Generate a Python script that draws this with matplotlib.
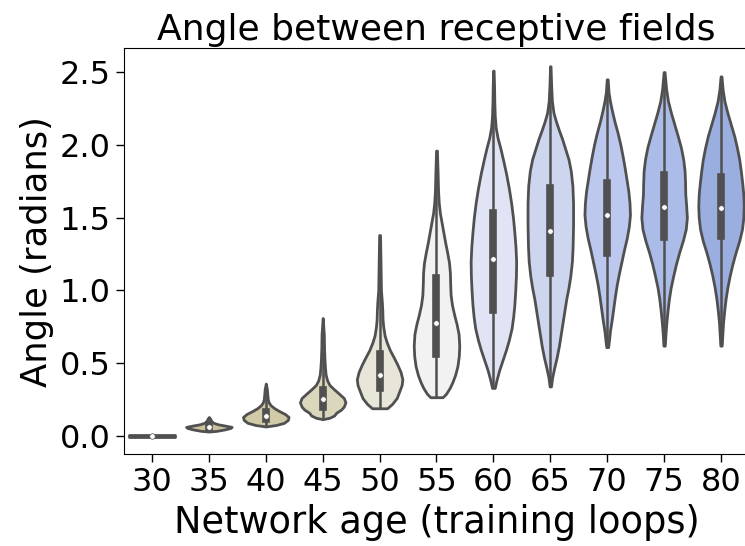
import matplotlib
matplotlib.use("Agg")
import matplotlib.pyplot as plt
import numpy as np

# network ages on the x axis
ages = [30, 35, 40, 45, 50, 55, 60, 65, 70, 75, 80]

# violin outlines: y level (radians) and relative half-width
prof_y = [
    [-0.004, 0.0, 0.004],
    [0.03, 0.035, 0.045, 0.055, 0.062, 0.07, 0.08, 0.09, 0.1, 0.11, 0.12, 0.13],
    [0.065, 0.075, 0.09, 0.11, 0.13, 0.15, 0.17, 0.19, 0.21, 0.23, 0.25, 0.28, 0.32, 0.36],
    [0.115, 0.125, 0.14, 0.16, 0.18, 0.2, 0.23, 0.26, 0.29, 0.32, 0.35, 0.38, 0.42, 0.47,
     0.52, 0.6, 0.7, 0.81],
    [0.19, 0.22, 0.26, 0.3, 0.35, 0.39, 0.44, 0.49, 0.54, 0.59, 0.64, 0.69, 0.75, 0.8,
     0.86, 0.92, 1.0, 1.1, 1.2, 1.38],
    [0.266, 0.29, 0.33, 0.37, 0.42, 0.48, 0.55, 0.62, 0.7, 0.77, 0.83, 0.9, 0.97, 1.05,
     1.12, 1.19, 1.26, 1.33, 1.4, 1.47, 1.53, 1.6, 1.68, 1.8, 1.96],
    [0.33, 0.38, 0.45, 0.52, 0.59, 0.66, 0.74, 0.82, 0.9, 1.0, 1.1, 1.2, 1.3, 1.4, 1.5,
     1.6, 1.7, 1.8, 1.9, 1.98, 2.05, 2.12, 2.2, 2.3, 2.4, 2.51],
    [0.34, 0.4, 0.46, 0.54, 0.62, 0.7, 0.78, 0.86, 0.94, 1.02, 1.1, 1.2, 1.3, 1.45, 1.6,
     1.72, 1.82, 1.9, 1.97, 2.04, 2.1, 2.16, 2.22, 2.3, 2.4, 2.54],
    [0.61, 0.66, 0.72, 0.8, 0.88, 0.96, 1.04, 1.12, 1.2, 1.28, 1.36, 1.44, 1.52, 1.6,
     1.68, 1.76, 1.84, 1.92, 2.0, 2.08, 2.16, 2.24, 2.3, 2.36, 2.45],
    [0.62, 0.7, 0.78, 0.86, 0.94, 1.02, 1.1, 1.18, 1.26, 1.34, 1.42, 1.5, 1.58, 1.66,
     1.74, 1.82, 1.9, 1.98, 2.06, 2.14, 2.22, 2.3, 2.38, 2.5],
    [0.62, 0.7, 0.78, 0.86, 0.94, 1.02, 1.1, 1.18, 1.26, 1.34, 1.42, 1.5, 1.58, 1.66,
     1.74, 1.82, 1.9, 1.98, 2.06, 2.14, 2.22, 2.3, 2.38, 2.47],
]
prof_w = [
    [1.0, 1.0, 1.0],
    [0.0, 0.35, 0.7, 0.95, 1.0, 0.75, 0.4, 0.2, 0.12, 0.08, 0.05, 0.0],
    [0.0, 0.45, 0.8, 0.97, 1.0, 0.85, 0.6, 0.38, 0.22, 0.13, 0.09, 0.07, 0.05, 0.0],
    [0.0, 0.3, 0.5, 0.6, 0.8, 0.92, 1.0, 0.93, 0.72, 0.5, 0.3, 0.2, 0.13, 0.1,
     0.08, 0.06, 0.05, 0.0],
    [0.33, 0.55, 0.75, 0.85, 0.97, 1.0, 0.92, 0.78, 0.62, 0.45, 0.32, 0.22, 0.16, 0.13,
     0.12, 0.1, 0.06, 0.05, 0.04, 0.02],
    [0.27, 0.42, 0.58, 0.7, 0.82, 0.92, 0.98, 1.0, 0.97, 0.88, 0.78, 0.68, 0.62, 0.6,
     0.59, 0.55, 0.47, 0.38, 0.3, 0.22, 0.15, 0.1, 0.07, 0.05, 0.02],
    [0.06, 0.13, 0.25, 0.4, 0.55, 0.68, 0.8, 0.87, 0.92, 0.96, 0.99, 1.0, 0.97, 0.92,
     0.86, 0.78, 0.68, 0.56, 0.42, 0.3, 0.18, 0.1, 0.06, 0.04, 0.03, 0.01],
    [0.03, 0.08, 0.16, 0.28, 0.38, 0.46, 0.54, 0.62, 0.7, 0.8, 0.88, 0.95, 0.98, 1.0,
     1.0, 0.97, 0.9, 0.8, 0.66, 0.52, 0.38, 0.25, 0.14, 0.07, 0.04, 0.01],
    [0.04, 0.08, 0.12, 0.2, 0.27, 0.34, 0.42, 0.52, 0.63, 0.74, 0.86, 0.95, 1.0, 0.98,
     0.93, 0.85, 0.77, 0.68, 0.58, 0.46, 0.32, 0.2, 0.12, 0.06, 0.02],
    [0.03, 0.06, 0.1, 0.15, 0.21, 0.29, 0.4, 0.52, 0.66, 0.82, 0.95, 1.0, 0.97, 0.93,
     0.92, 0.9, 0.84, 0.74, 0.6, 0.45, 0.3, 0.17, 0.09, 0.02],
    [0.03, 0.06, 0.09, 0.14, 0.2, 0.28, 0.38, 0.5, 0.64, 0.8, 0.92, 0.98, 1.0, 0.98,
     0.93, 0.87, 0.8, 0.7, 0.58, 0.43, 0.28, 0.15, 0.07, 0.02],
]

# inner box: quartiles, medians and whisker ends
q1 = [0.0, 0.055, 0.113, 0.2, 0.33, 0.566, 0.864, 1.116, 1.255, 1.365, 1.377]
q3 = [0.0, 0.075, 0.164, 0.313, 0.564, 1.084, 1.531, 1.704, 1.741, 1.796, 1.778]
medians = [0.0, 0.064, 0.14, 0.252, 0.419, 0.774, 1.214, 1.408, 1.518, 1.575, 1.564]
whisk_lo = [0.0, 0.035, 0.07, 0.12, 0.19, 0.27, 0.33, 0.34, 0.61, 0.62, 0.62]
whisk_hi = [0.0, 0.11, 0.34, 0.58, 1.0, 1.9, 2.51, 2.54, 2.45, 2.5, 2.47]

colors = ["#c8c096", "#c9c29b", "#d0caa7", "#dbd7bd", "#e8e6d8", "#f2f2f2",
          "#e0e4f5", "#cdd5ef", "#bcc8ed", "#acbce8", "#9aaee0"]
gray = "#505050"

fig = plt.figure(figsize=(7.45, 5.46), dpi=100)
ax = fig.add_axes([0.1658, 0.168, 0.8402, 0.7435])

stats = []
for i in range(len(ages)):
    stats.append({
        "coords": np.array(prof_y[i]),
        "vals": np.array(prof_w[i]),
        "mean": medians[i],
        "median": medians[i],
        "min": prof_y[i][0],
        "max": prof_y[i][-1],
    })

pos = np.arange(len(ages))
parts = ax.violin(stats, positions=pos, widths=0.8,
                  showmeans=False, showextrema=False, showmedians=False)
for body, c in zip(parts["bodies"], colors):
    body.set_facecolor(c)
    body.set_edgecolor(gray)
    body.set_linewidth(2.0)
    body.set_alpha(1)

for i in range(len(ages)):
    ax.plot([pos[i], pos[i]], [whisk_lo[i], whisk_hi[i]], color=gray, lw=1.8,
            solid_capstyle="butt", zorder=2)
    ax.plot([pos[i], pos[i]], [q1[i], q3[i]], color=gray, lw=5.5,
            solid_capstyle="projecting", zorder=2)
ax.scatter(pos, medians, s=16, color="white", edgecolor=gray, linewidth=0.5, zorder=3)

ax.set_xlim(-0.5, 10.5)
ax.set_ylim(-0.126, 2.663)
ax.set_xticks(pos)
ax.set_xticklabels([str(a) for a in ages])
ax.set_yticks([0.0, 0.5, 1.0, 1.5, 2.0, 2.5])
ax.tick_params(labelsize=23, length=6, width=1)
ax.set_xlabel("Network age (training loops)", fontsize=26.5)
ax.set_ylabel("Angle (radians)", fontsize=25.5)
ax.set_title("Angle between receptive fields", fontsize=26)

fig.savefig("out.png", dpi=100)
